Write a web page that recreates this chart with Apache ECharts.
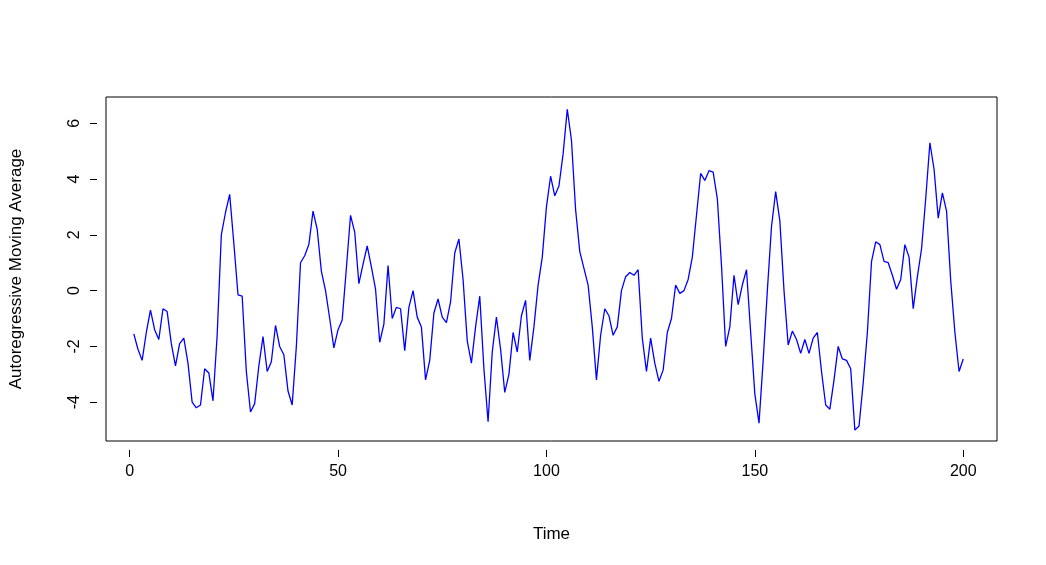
<!DOCTYPE html>
<html><head><meta charset="utf-8">
<script src="https://cdn.jsdelivr.net/npm/echarts@6/dist/echarts.min.js"></script>
<style>html,body{margin:0;background:#fff}#c{width:1046px;height:565px}</style>
</head><body><div id="c"></div>
<script>
const values = [-1.55,-2.1,-2.5,-1.5,-0.7,-1.4,-1.75,-0.65,-0.75,-1.9,-2.7,-1.9,-1.7,-2.6,-4.0,-4.2,-4.1,-2.8,-2.95,-3.95,
-1.6,2.0,2.8,3.45,1.7,-0.15,-0.2,-2.9,-4.35,-4.05,-2.7,-1.65,-2.9,-2.55,-1.25,-2.0,-2.3,-3.6,-4.1,-2.0,
1.0,1.25,1.65,2.85,2.2,0.7,0.0,-1.0,-2.05,-1.4,-1.05,0.8,2.7,2.1,0.25,0.95,1.6,0.85,0.05,-1.85,
-1.2,0.9,-1.0,-0.6,-0.65,-2.15,-0.6,0.0,-0.95,-1.3,-3.2,-2.5,-0.8,-0.3,-0.95,-1.15,-0.4,1.35,1.85,0.4,
-1.8,-2.6,-1.3,-0.2,-2.8,-4.7,-2.2,-0.95,-2.1,-3.65,-3.0,-1.5,-2.2,-0.9,-0.35,-2.5,-1.3,0.2,1.2,3.0,
4.1,3.4,3.75,4.9,6.5,5.4,2.9,1.4,0.8,0.2,-1.3,-3.2,-1.6,-0.65,-0.9,-1.6,-1.3,0.0,0.5,0.65,
0.55,0.75,-1.7,-2.9,-1.7,-2.6,-3.25,-2.85,-1.5,-1.0,0.2,-0.1,0.0,0.4,1.2,2.7,4.2,3.95,4.3,4.25,
3.3,0.9,-2.0,-1.3,0.55,-0.5,0.2,0.75,-1.5,-3.7,-4.75,-2.5,0.0,2.3,3.55,2.5,0.0,-1.95,-1.45,-1.75,
-2.25,-1.75,-2.25,-1.7,-1.5,-2.9,-4.1,-4.25,-3.2,-2.0,-2.45,-2.5,-2.8,-5.0,-4.85,-3.3,-1.5,1.05,1.75,1.65,
1.05,1.0,0.55,0.05,0.4,1.65,1.2,-0.65,0.5,1.5,3.3,5.3,4.35,2.6,3.5,2.85,0.35,-1.5,-2.9,-2.45];
const xTicks = [0,50,100,150,200];
const yTicks = [-4,-2,0,2,4,6];
const xTitle = 'Time', yTitle = 'Autoregressive Moving Average';
const data = values.map((v,i)=>[i+1,v]);
const font = 'Liberation Sans';
const chart = echarts.init(document.getElementById('c'));
chart.setOption({
  animation:false,
  grid:{left:99,right:49,top:97,bottom:124,show:true,borderColor:'#000',borderWidth:1},
  xAxis:{type:'value',min:-5.67,max:208.1,offset:9,position:'bottom',
    axisLine:{show:false,onZero:false},splitLine:{show:false},
    axisTick:{show:true,length:7,customValues:xTicks,lineStyle:{color:'#000'}},
    axisLabel:{customValues:xTicks,color:'#000',fontSize:16,fontFamily:font,margin:14},
    name:xTitle,nameLocation:'middle',nameGap:76,nameTextStyle:{color:'#000',fontSize:17,fontFamily:font}},
  yAxis:{type:'value',min:-5.39,max:6.94,offset:9,position:'left',
    axisLine:{show:false,onZero:false},splitLine:{show:false},
    axisTick:{show:true,length:7,customValues:yTicks,lineStyle:{color:'#000'}},
    axisLabel:{customValues:yTicks,color:'#000',fontSize:16,fontFamily:font,rotate:90,margin:14,align:'center'},
    name:yTitle,nameLocation:'middle',nameGap:72,nameTextStyle:{color:'#000',fontSize:17,fontFamily:font}},
  series:[{type:'line',data:data,showSymbol:false,lineStyle:{color:'#0000ff',width:1.3}}]
});
</script></body></html>
